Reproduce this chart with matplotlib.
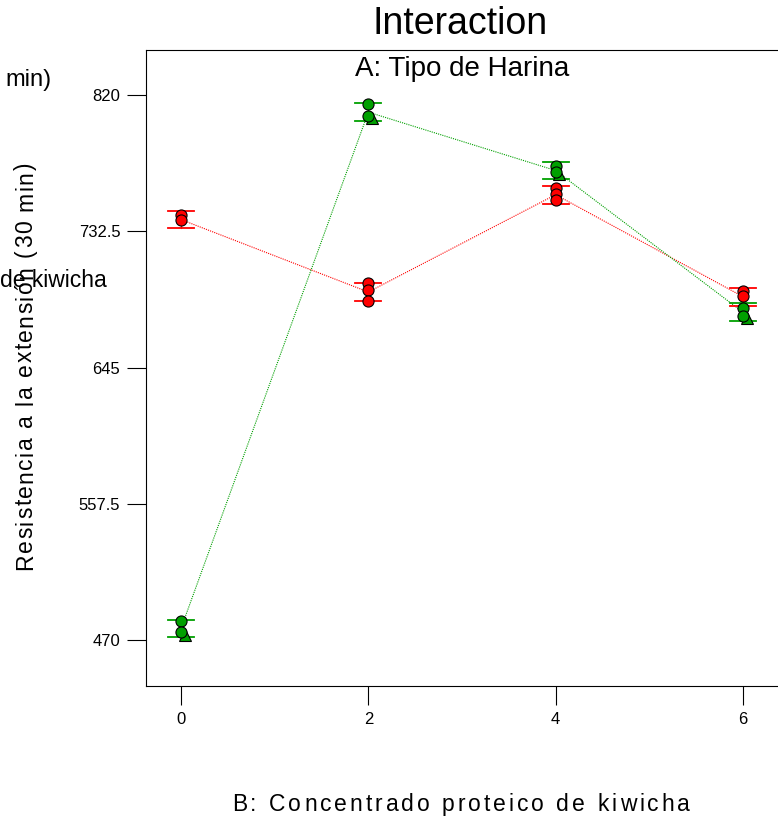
import matplotlib.pyplot as plt
from matplotlib import font_manager
from matplotlib.ft2font import FT2Font

# niveles del factor B (concentrado proteico de kiwicha)
levels = [0, 2, 4, 6]

# medias por tipo de harina
red_means = [740.0, 693.5, 756.0, 690.5]
green_means = [477.5, 809.0, 771.5, 680.5]

# observaciones individuales
red_points = [[743.0, 739.5], [699.0, 694.5, 688.0], [760.5, 756.5, 752.5], [694.0, 691.0]]
green_points = [[482.0, 475.0, 475.0], [814.0, 806.5, 806.5], [774.5, 770.5, 770.5], [683.5, 678.0, 678.0]]

lsd = 5.7  # semiamplitud de las barras LSD
y_ticks = [470, 557.5, 645, 732.5, 820]

RED = '#ff0000'
GREEN = '#00a000'

W, H = 778, 821

plt.rcParams['font.family'] = ['Liberation Sans', 'DejaVu Sans']

fig = plt.figure(figsize=(W / 100, H / 100), dpi=100)
ax = fig.add_axes([146 / W, 1 - 686 / H, (W - 146) / W, (686 - 50) / H])


def draw_series(means, points, color):
    ax.plot(levels, means, color=color, lw=0.8, ls=(0, (1, 1)), zorder=2)
    for x, m, pts in zip(levels, means, points):
        # barras LSD
        for yb in (m - lsd, m + lsd):
            ax.plot([x - 0.14, x + 0.14], [yb, yb], color=color, lw=1.3, zorder=3)
        ax.plot([x, x], [m - lsd, m + lsd], color=color, lw=0.8, zorder=3)
        seen = set()
        for p in pts:
            if p in seen:
                # punto repetido -> triángulo
                ax.plot(x + 0.04, p - 1.5, marker='^', ms=8, color=color,
                        mec='black', mew=0.8, zorder=4)
            seen.add(p)
        for p in sorted(set(pts), reverse=True):
            ax.plot(x, p, marker='o', ms=8, color=color, mec='black', mew=0.8, zorder=5)


def spaced_text(x0, y0, s, length, size, vertical=False):
    # texto con espaciado entre letras (en píxeles, desde arriba-izquierda)
    font = FT2Font(font_manager.findfont('Liberation Sans'))
    font.set_size(size, 100)
    adv = [font.load_char(ord(ch)).linearHoriAdvance / 65536 for ch in s]
    extra = (length - sum(adv)) / (len(s) - 1)
    pos = 0.0
    for ch, a in zip(s, adv):
        if vertical:
            fx, fy, rot = x0, y0 - pos, 90
        else:
            fx, fy, rot = x0 + pos, y0, 0
        if ch != ' ':
            fig.text(fx / W, 1 - fy / H, ch, rotation=rot, rotation_mode='anchor',
                     ha='left', va='baseline', fontsize=size)
        pos += a + extra


draw_series(red_means, red_points, RED)
draw_series(green_means, green_points, GREEN)

ax.set_xlim(-0.374, 6.374)
ax.set_ylim(440.5, 848.9)
ax.set_xticks(levels)
ax.set_xticklabels([str(v) for v in levels])
ax.set_yticks(y_ticks)
ax.set_yticklabels(['470', '557.5', '645', '732.5', '820'])
ax.tick_params(axis='both', direction='out', length=13.5, width=0.8, labelsize=12, pad=5)
ax.spines['right'].set_visible(False)
for s in ('left', 'top', 'bottom'):
    ax.spines[s].set_linewidth(0.8)

fig.text(460 / W, 1 - 24 / H, 'Interaction', ha='center', va='center', fontsize=27)
fig.text(462 / W, 1 - 69 / H, 'A: Tipo de Harina', ha='center', va='center', fontsize=20)
spaced_text(32, 570, 'Resistencia a la extensión (30 min)', 408, 16.5, vertical=True)
spaced_text(232, 811, 'B: Concentrado proteico de kiwicha', 458, 16.5)
# restos de texto superpuesto del original
fig.text(5 / W, 1 - 80 / H, 'min)', ha='left', va='center', fontsize=17)
fig.text(0, 1 - 280 / H, 'de kiwicha', ha='left', va='center', fontsize=16.5)

fig.savefig('out.png', dpi=100)
